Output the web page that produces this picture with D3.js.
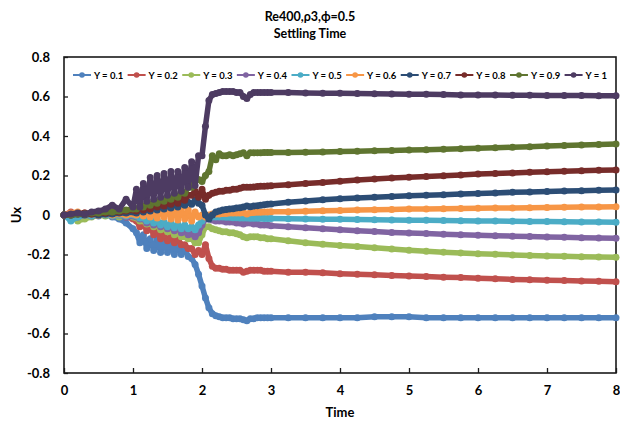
<!DOCTYPE html>
<html>
<head>
<meta charset="utf-8">
<script src="https://cdn.jsdelivr.net/npm/d3@7"></script>
<style>
  body { margin: 0; background: #fff; }
  text { font-family: Lato, "Open Sans", sans-serif; font-weight: bold; fill: #000; }
</style>
</head>
<body>
<div id="chart"></div>
<script>

// --> DATA
var times = [0, 0.1, 0.2, 0.3, 0.4, 0.5, 0.6, 0.7, 0.8, 0.9, 1,
    1.05, 1.1, 1.15, 1.2, 1.25, 1.3, 1.35, 1.4, 1.45, 1.5, 1.55, 1.6, 1.65, 1.7, 1.75, 1.8, 1.85, 1.9, 1.95, 2,
    2.05, 2.1, 2.15, 2.2, 2.25, 2.3, 2.35, 2.4, 2.45, 2.5, 2.55, 2.6, 2.65, 2.7, 2.75, 2.8, 2.85, 2.9, 2.95, 3,
    3.25, 3.5, 3.75, 4, 4.25, 4.5, 4.75, 5, 5.25, 5.5, 5.75, 6, 6.25, 6.5, 6.75, 7, 7.25, 7.5, 7.75, 8];

var seriesNames = ["Y = 0.1", "Y = 0.2", "Y = 0.3", "Y = 0.4", "Y = 0.5",
    "Y = 0.6", "Y = 0.7", "Y = 0.8", "Y = 0.9", "Y = 1"];

var seriesColors = ["#4f81bd", "#c0504d", "#9bbb59", "#8064a2", "#4bacc6",
    "#f79646", "#2c4d75", "#772c2a", "#5f7530", "#4d3b62"];

var uY01 = [0, -0.02, 0.005, -0.01, 0, -0.005, 0.005, -0.01, -0.02, -0.04, -0.07,
    -0.09, -0.14, -0.1, -0.17, -0.12, -0.18, -0.12, -0.19, -0.13, -0.19, -0.14, -0.2, -0.15, -0.2, -0.17, -0.21, -0.22, -0.25, -0.3, -0.36,
    -0.42, -0.47, -0.5, -0.51, -0.515, -0.52, -0.52, -0.52, -0.525, -0.525, -0.525, -0.53, -0.535, -0.525, -0.525, -0.52, -0.52, -0.52, -0.52, -0.52,
    -0.52, -0.52, -0.52, -0.52, -0.52, -0.515, -0.515, -0.515, -0.52, -0.52, -0.52, -0.52, -0.52, -0.52, -0.52, -0.52, -0.52, -0.52, -0.52, -0.52];

var uY02 = [0, 0.015, 0, 0.01, -0.005, 0, 0.005, -0.005, 0, -0.01, -0.02,
    -0.03, -0.06, -0.04, -0.08, -0.06, -0.1, -0.08, -0.12, -0.1, -0.13, -0.11, -0.14, -0.12, -0.15, -0.15, -0.17, -0.17, -0.2, -0.18, -0.2,
    -0.15, -0.22, -0.26, -0.27, -0.27, -0.275, -0.275, -0.28, -0.28, -0.28, -0.28, -0.29, -0.285, -0.28, -0.28, -0.28, -0.28, -0.285, -0.285, -0.285,
    -0.29, -0.29, -0.293, -0.297, -0.3, -0.303, -0.306, -0.309, -0.312, -0.315, -0.317, -0.32, -0.323, -0.326, -0.328, -0.33, -0.332, -0.334, -0.336, -0.338];

var uY03 = [0, -0.01, -0.03, -0.02, -0.01, 0, -0.005, 0, -0.01, 0, -0.01,
    -0.015, -0.03, -0.03, -0.045, -0.04, -0.06, -0.05, -0.075, -0.07, -0.085, -0.08, -0.1, -0.09, -0.11, -0.11, -0.12, -0.12, -0.14, -0.14, -0.1,
    -0.06, -0.06, -0.07, -0.075, -0.08, -0.085, -0.085, -0.09, -0.09, -0.095, -0.1, -0.11, -0.115, -0.11, -0.11, -0.11, -0.115, -0.115, -0.12, -0.12,
    -0.13, -0.14, -0.148, -0.155, -0.16, -0.166, -0.172, -0.178, -0.183, -0.188, -0.192, -0.196, -0.199, -0.202, -0.205, -0.207, -0.209, -0.211, -0.213, -0.214];

var uY04 = [0, 0.005, -0.01, 0, -0.005, 0, 0.005, -0.005, 0, -0.01, -0.005,
    -0.01, -0.02, -0.02, -0.04, -0.025, -0.05, -0.035, -0.06, -0.045, -0.07, -0.055, -0.08, -0.065, -0.09, -0.085, -0.1, -0.095, -0.11, -0.09, -0.05,
    -0.02, -0.02, -0.025, -0.03, -0.03, -0.03, -0.035, -0.035, -0.035, -0.04, -0.04, -0.045, -0.04, -0.04, -0.045, -0.045, -0.05, -0.05, -0.05, -0.055,
    -0.06, -0.065, -0.07, -0.075, -0.08, -0.084, -0.088, -0.091, -0.094, -0.097, -0.1, -0.103, -0.105, -0.107, -0.109, -0.111, -0.113, -0.115, -0.116, -0.118];

var uY05 = [0, -0.03, -0.01, 0, -0.005, 0.005, 0, -0.005, 0, -0.005, 0,
    -0.005, -0.015, -0.015, -0.03, -0.015, -0.04, -0.025, -0.05, -0.035, -0.06, -0.04, -0.065, -0.045, -0.07, -0.05, -0.07, -0.06, -0.075, -0.05, -0.03,
    0, -0.005, -0.01, -0.01, -0.01, -0.01, -0.012, -0.012, -0.014, -0.014, -0.015, -0.015, -0.015, -0.016, -0.016, -0.017, -0.017, -0.018, -0.018, -0.018,
    -0.019, -0.02, -0.021, -0.022, -0.023, -0.024, -0.025, -0.026, -0.027, -0.028, -0.029, -0.03, -0.031, -0.032, -0.033, -0.033, -0.034, -0.035, -0.036, -0.037];

var uY06 = [0, 0.01, 0.015, 0, 0.005, 0, 0.005, 0, 0.005, 0, 0.005,
    0, 0.01, -0.005, 0.015, -0.01, 0.02, -0.015, 0.025, -0.01, 0.03, -0.02, 0.025, -0.025, 0.03, -0.02, 0.025, -0.03, 0.015, -0.01, 0,
    -0.01, 0, 0.005, 0.005, 0.005, 0.008, 0.008, 0.01, 0.01, 0.01, 0.01, 0.012, 0.005, 0.012, 0.013, 0.014, 0.014, 0.015, 0.015, 0.016,
    0.017, 0.019, 0.021, 0.023, 0.025, 0.027, 0.028, 0.03, 0.031, 0.032, 0.033, 0.034, 0.035, 0.036, 0.037, 0.038, 0.039, 0.04, 0.041, 0.042];

var uY07 = [0, 0, 0.005, 0, 0.005, 0, 0.005, 0.005, 0.01, 0.01, 0.015,
    0.01, 0.025, 0.015, 0.03, 0.02, 0.04, 0.025, 0.045, 0.03, 0.05, 0.035, 0.055, 0.04, 0.06, 0.05, 0.065, 0.055, 0.075, 0.06, 0.05,
    0, -0.02, 0, 0.015, 0.02, 0.025, 0.028, 0.03, 0.032, 0.035, 0.037, 0.04, 0.045, 0.042, 0.045, 0.047, 0.05, 0.052, 0.054, 0.056,
    0.065, 0.071, 0.077, 0.082, 0.086, 0.09, 0.094, 0.097, 0.1, 0.103, 0.106, 0.109, 0.112, 0.115, 0.117, 0.119, 0.121, 0.123, 0.125, 0.127];

var uY08 = [0, 0, 0.005, 0.01, 0.005, 0.01, 0.01, 0.015, 0.015, 0.02, 0.025,
    0.02, 0.035, 0.025, 0.045, 0.03, 0.055, 0.04, 0.065, 0.045, 0.07, 0.055, 0.08, 0.06, 0.09, 0.075, 0.1, 0.1, 0.12, 0.09, 0.13,
    0.08, 0.1, 0.11, 0.115, 0.12, 0.12, 0.125, 0.125, 0.13, 0.13, 0.135, 0.14, 0.14, 0.14, 0.142, 0.144, 0.145, 0.146, 0.147, 0.148,
    0.153, 0.159, 0.165, 0.171, 0.177, 0.182, 0.187, 0.191, 0.195, 0.199, 0.203, 0.207, 0.21, 0.213, 0.216, 0.219, 0.221, 0.224, 0.226, 0.228];

var uY09 = [0, 0, 0.005, 0.005, 0.01, 0.01, 0.015, 0.015, 0.02, 0.025, 0.03,
    0.03, 0.045, 0.04, 0.06, 0.05, 0.07, 0.06, 0.08, 0.07, 0.09, 0.08, 0.1, 0.09, 0.12, 0.11, 0.14, 0.14, 0.18, 0.18, 0.17,
    0.2, 0.22, 0.3, 0.28, 0.31, 0.3, 0.3, 0.305, 0.3, 0.305, 0.31, 0.315, 0.3, 0.315, 0.315, 0.315, 0.315, 0.316, 0.316, 0.316,
    0.317, 0.318, 0.319, 0.321, 0.323, 0.325, 0.327, 0.329, 0.331, 0.333, 0.336, 0.338, 0.34, 0.343, 0.346, 0.349, 0.352, 0.355, 0.357, 0.36];

var uY10 = [0, 0.005, 0.01, 0.005, 0.015, 0.02, 0.03, 0.05, 0.03, 0.08, 0.04,
    0.13, 0.04, 0.16, 0.07, 0.19, 0.08, 0.2, 0.09, 0.21, 0.1, 0.22, 0.11, 0.22, 0.12, 0.24, 0.14, 0.27, 0.15, 0.3, 0.3,
    0.45, 0.58, 0.61, 0.615, 0.62, 0.625, 0.625, 0.625, 0.625, 0.62, 0.62, 0.6, 0.59, 0.61, 0.62, 0.62, 0.62, 0.62, 0.62, 0.62,
    0.62, 0.618, 0.617, 0.616, 0.615, 0.614, 0.613, 0.612, 0.611, 0.61, 0.608, 0.607, 0.607, 0.606, 0.606, 0.605, 0.605, 0.605, 0.604, 0.604];

var xTicks = [0, 1, 2, 3, 4, 5, 6, 7, 8];
var yTicks = [-0.8, -0.6, -0.4, -0.2, 0, 0.2, 0.4, 0.6, 0.8];
var yTickLabels = ["-0.8", "-0.6", "-0.4", "-0.2", "0", "0.2", "0.4", "0.6", "0.8"];

var allValues = [uY01, uY02, uY03, uY04, uY05, uY06, uY07, uY08, uY09, uY10];


// --> SVG
var width = 620,
    height = 424;

var svg = d3.select("#chart").append("svg")
    .attr("width", width)
    .attr("height", height);

var x = d3.scaleLinear().domain([0, 8]).range([64, 616]);
var y = d3.scaleLinear().domain([-0.8, 0.8]).range([373, 57]);

// titles
svg.append("text").attr("x", 310).attr("y", 21).attr("text-anchor", "middle")
    .style("font-size", "12.5px").text("Re400,ρ3,ϕ=0.5");
svg.append("text").attr("x", 310).attr("y", 38).attr("text-anchor", "middle")
    .style("font-size", "12.5px").text("Settling Time");

// plot box
svg.append("rect")
    .attr("x", x(0)).attr("y", y(0.8))
    .attr("width", x(8) - x(0)).attr("height", y(-0.8) - y(0.8))
    .attr("fill", "none").attr("stroke", "#1a1a1a").attr("stroke-width", 1.6);

// axes (ticks point inside like the reference)
var xAxis = d3.axisBottom(x).tickValues(xTicks).tickSizeInner(-5).tickSizeOuter(0).tickPadding(13)
    .tickFormat(d3.format("d"));
var yAxis = d3.axisLeft(y).tickValues(yTicks).tickSizeInner(-4).tickSizeOuter(0).tickPadding(14)
    .tickFormat(function(d, i) { return yTickLabels[i]; });

var gx = svg.append("g").attr("transform", "translate(0," + y(-0.8) + ")").call(xAxis);
var gy = svg.append("g").attr("transform", "translate(" + x(0) + ",0)").call(yAxis);

[gx, gy].forEach(function(g) {
    g.select(".domain").remove();
    g.selectAll(".tick line").attr("stroke", "#1a1a1a").attr("stroke-width", 1.3);
    g.selectAll(".tick text").style("font-size", "13px").style("font-family", "Lato, 'Open Sans', sans-serif")
        .style("font-weight", "bold").attr("fill", "#000");
});

// axis titles
svg.append("text").attr("x", 340).attr("y", 417).attr("text-anchor", "middle")
    .style("font-size", "13px").text("Time");
svg.append("text").attr("transform", "translate(21,215) rotate(-90)").attr("text-anchor", "middle")
    .style("font-size", "13px").text("Ux");

// series
var line = d3.line()
    .x(function(d) { return x(d.t); })
    .y(function(d) { return y(d.v); });

allValues.forEach(function(vals, i) {
    var pts = vals.map(function(v, k) { return { t: times[k], v: v }; });
    var g = svg.append("g").attr("class", "series");
    g.append("path")
        .datum(pts)
        .attr("d", line)
        .attr("fill", "none")
        .attr("stroke", seriesColors[i])
        .attr("stroke-width", 5.5)
        .attr("stroke-linejoin", "round")
        .attr("stroke-linecap", "round");
    g.selectAll("circle")
        .data(pts)
        .enter().append("circle")
        .attr("cx", function(d) { return x(d.t); })
        .attr("cy", function(d) { return y(d.v); })
        .attr("r", 3.5)
        .attr("fill", seriesColors[i]);
});

// legend
var legend = svg.append("g").attr("transform", "translate(0,75)");
var items = legend.selectAll("g").data(seriesNames).enter().append("g");
items.append("line").attr("x1", 0).attr("x2", 18).attr("y1", 0).attr("y2", 0)
    .attr("stroke", function(d, i) { return seriesColors[i]; }).attr("stroke-width", 2);
items.append("circle").attr("cx", 9).attr("cy", 0).attr("r", 2.8)
    .attr("fill", function(d, i) { return seriesColors[i]; });
items.append("text").attr("x", 21).attr("y", 3.5).style("font-size", "9.5px").text(function(d) { return d; });

var widths = [];
items.each(function() { widths.push(21 + d3.select(this).select("text").node().getComputedTextLength()); });
var gap = (607 - 73 - d3.sum(widths)) / (widths.length - 1);
var pos = 73;
items.each(function(d, i) {
    d3.select(this).attr("transform", "translate(" + pos + ",0)");
    pos += widths[i] + gap;
});

</script>
</body>
</html>
